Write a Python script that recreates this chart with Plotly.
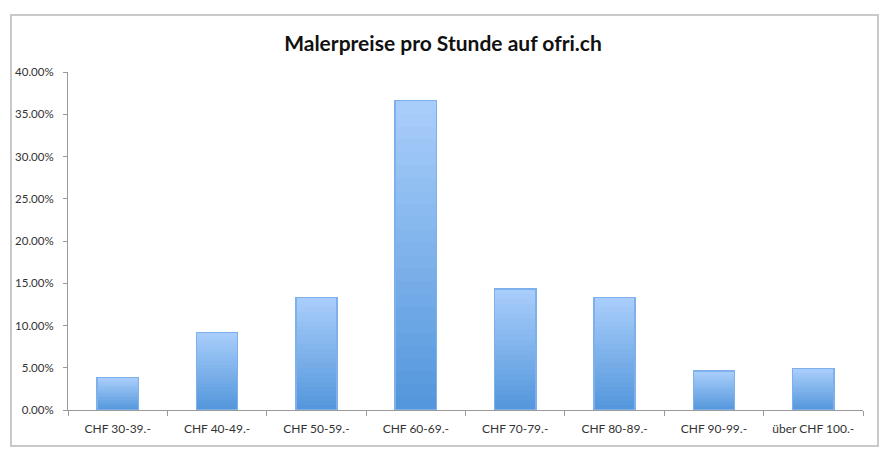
import plotly.graph_objects as go

categories = ["CHF 30-39.-", "CHF 40-49.-", "CHF 50-59.-", "CHF 60-69.-",
              "CHF 70-79.-", "CHF 80-89.-", "CHF 90-99.-", "über CHF 100.-"]
shares = [0.0385, 0.092, 0.133, 0.366, 0.143, 0.133, 0.046, 0.049]
y_ticks = [0.0, 0.05, 0.10, 0.15, 0.20, 0.25, 0.30, 0.35, 0.40]
title_text = "Malerpreise pro Stunde auf ofri.ch"

FONT = "Lato, 'Open Sans', sans-serif"
N_SEG = 24
bottom_rgb = (84, 151, 220)
top_rgb = (168, 205, 250)

# page body has an 8px margin; positions below are window pixels minus 8
OFF = 8
L, R, T, B = 68 - OFF, 863 - OFF, 72 - OFF, 410 - OFF
W, H = 887, 454
PW, PH = R - L, B - T

fig = go.Figure()
# Each bar is stacked from slices of its own value so that it shows a vertical gradient
for k in range(N_SEG):
    t = k / (N_SEG - 1)
    c = tuple(round(b + (tp - b) * t) for b, tp in zip(bottom_rgb, top_rgb))
    fig.add_trace(go.Bar(
        x=categories, y=[v / N_SEG for v in shares],
        marker=dict(color=f"rgb{c}", line=dict(width=0)),
        hoverinfo="skip", showlegend=False, xaxis="x", yaxis="y",
    ))
# outline of each bar
fig.add_trace(go.Bar(
    x=categories, y=shares,
    marker=dict(color="rgba(0,0,0,0)", line=dict(color="#7eb0ec", width=1.5)),
    showlegend=False, xaxis="x2", yaxis="y",
))

fig.update_layout(
    width=W, height=H,
    margin=dict(l=L, r=W - R, t=T, b=H - B, autoexpand=False),
    paper_bgcolor="white", plot_bgcolor="white",
    barmode="stack", bargap=0.585,
    font=dict(family=FONT, size=12, color="#333333"),
    title=dict(text=title_text, x=(443 - OFF) / W, xanchor="center", y=1 - (44 - OFF) / H,
               yanchor="middle", yref="container",
               font=dict(family=FONT, size=21, color="#111111", weight="bold")),
    xaxis=dict(type="category", showline=True, linecolor="#9a9a9a", linewidth=1,
               ticks="outside", tickson="boundaries", ticklen=5, tickcolor="#9a9a9a",
               ticklabelstandoff=8, automargin=False,
               showgrid=False, zeroline=False, tickfont=dict(size=12, color="#333333")),
    xaxis2=dict(type="category", overlaying="x", matches="x", visible=False),
    yaxis=dict(range=[0, 0.40], tickvals=y_ticks, tickformat=".2%",
               showline=True, linecolor="#9a9a9a", linewidth=1,
               ticks="outside", ticklen=4, tickcolor="#9a9a9a",
               ticklabelstandoff=7, automargin=False,
               showgrid=False, zeroline=False, tickfont=dict(size=11.5, color="#333333")),
    shapes=[
        dict(type="rect", xref="paper", yref="paper",
             x0=(11 - OFF - L) / PW, x1=(878 - OFF - L) / PW,
             y0=(B - (446 - OFF)) / PH, y1=(B - (15 - OFF)) / PH,
             line=dict(color="#c9c9c9", width=2), fillcolor="rgba(0,0,0,0)", layer="below"),
    ],
)

fig.write_html("out.html")
